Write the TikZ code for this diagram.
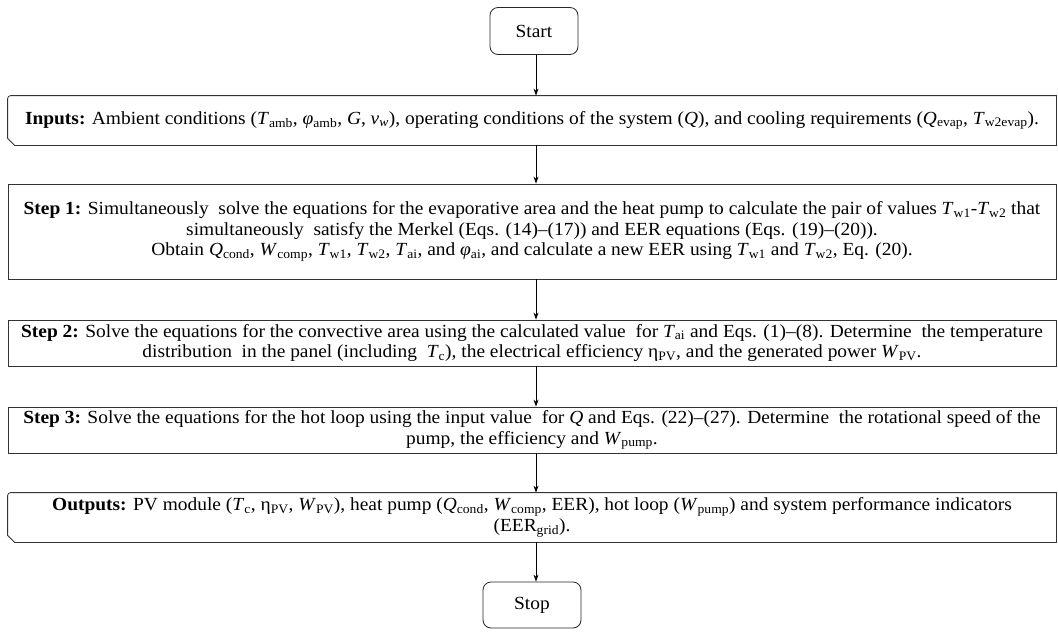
\documentclass[tikz,border=0pt]{standalone}
\usepackage{fontspec}
\setmainfont{Liberation Serif}[FakeStretch=1.05]
\usetikzlibrary{arrows.meta}
\newcommand{\vsb}[2]{\textit{#1}\textsubscript{#2}}
\begin{document}
\begin{tikzpicture}[x=1pt,y=1pt,
  font=\fontsize{18.5}{20.5}\selectfont,
  line width=0.8pt,
  termbox/.style={draw=black!85, rounded corners=8pt, minimum width=#1, minimum height=47pt, inner sep=0pt},
  stepbox/.style={draw=black!80, minimum width=1048pt, inner sep=0pt, align=center},
  snipbox/.style={draw=none, minimum width=1048pt, inner sep=0pt, align=center},
  flow/.style={draw=black, -{Stealth[length=7pt,width=5pt]}}
]
\useasboundingbox (0,0) rectangle (1058,-632);

\node[termbox=88pt] (start) at (534,-31) {Start};
\node[snipbox, minimum height=49pt] (inputs) at (532,-120.5) {\textbf{Inputs:} Ambient conditions (\vsb{T}{amb}, \vsb{φ}{amb}, \textit{G}, \textit{v}\textsubscript{\textit{w}}), operating conditions of the system (\textit{Q}), and cooling requirements (\vsb{Q}{evap}, \vsb{T}{w2evap}).};
\node[stepbox, minimum height=95pt] (step1) at (532,-231.5) {\textbf{Step 1:} Simultaneously\ \ solve the equations for the evaporative area and the heat pump to calculate the pair of values \vsb{T}{w1}-\vsb{T}{w2} that\\
simultaneously\ \ satisfy the Merkel (Eqs. (14)–(17)) and EER equations (Eqs. (19)–(20)).\\
Obtain \vsb{Q}{cond}, \vsb{W}{comp}, \vsb{T}{w1}, \vsb{T}{w2}, \vsb{T}{ai}, and \vsb{φ}{ai}, and calculate a new EER using \vsb{T}{w1} and \vsb{T}{w2}, Eq. (20).};
\node[stepbox, minimum height=46pt] (step2) at (532,-343) {\textbf{Step 2:} Solve the equations for the convective area using the calculated value\ \ for \vsb{T}{ai} and Eqs. (1)–(8). Determine\ \ the temperature\\
distribution\ \ in the panel (including\ \ \vsb{T}{c}), the electrical efficiency η\textsubscript{PV}, and the generated power \vsb{W}{PV}.};
\node[stepbox, minimum height=46pt] (step3) at (532,-430) {\textbf{Step 3:} Solve the equations for the hot loop using the input value\ \ for \textit{Q} and Eqs. (22)–(27). Determine\ \ the rotational speed of the\\
pump, the efficiency and \vsb{W}{pump}.};
\node[snipbox, minimum height=49pt] (outputs) at (532,-517.5) {\textbf{Outputs:} PV module (\vsb{T}{c}, η\textsubscript{PV}, \vsb{W}{PV}), heat pump (\vsb{Q}{cond}, \vsb{W}{comp}, EER), hot loop (\vsb{W}{pump}) and system performance indicators\\
(EER\textsubscript{grid}).};
\node[termbox=98pt, minimum height=46pt] (stop) at (532,-605) {Stop};

\foreach \n in {inputs,outputs}{
  \draw[draw=black!80] ([xshift=7pt]\n.south west) -- ([yshift=7pt]\n.south west)
    -- ([yshift=-3pt]\n.north west) arc[start angle=180,end angle=90,radius=3pt]
    -- (\n.north east) -- (\n.south east) -- cycle;
}

\draw[flow] (start.south -| 536,0) -- (inputs.north -| 536,0);
\draw[flow] (inputs.south -| 536,0) -- (step1.north -| 536,0);
\draw[flow] (step1.south -| 536,0) -- (step2.north -| 536,0);
\draw[flow] (step2.south -| 536,0) -- (step3.north -| 536,0);
\draw[flow] (step3.south -| 536,0) -- (outputs.north -| 536,0);
\draw[flow] (outputs.south -| 536,0) -- (stop.north -| 536,0);
\end{tikzpicture}
\end{document}
